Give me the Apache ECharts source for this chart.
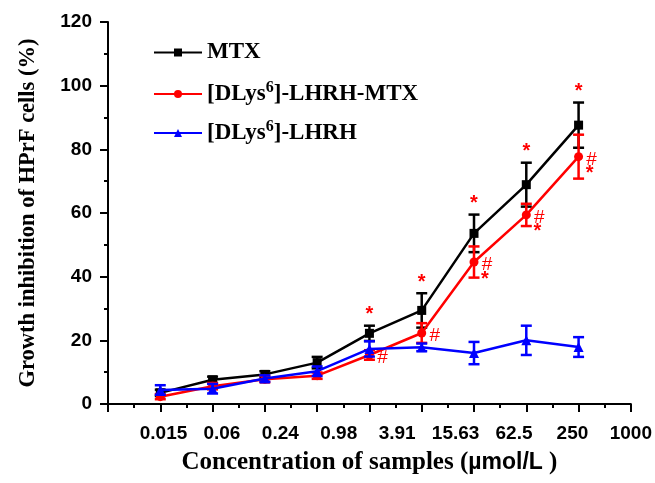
<!DOCTYPE html>
<html>
<head>
<meta charset="utf-8">
<script src="https://cdn.jsdelivr.net/npm/echarts@6/dist/echarts.min.js"></script>
<style>html,body{margin:0;padding:0;background:#fff}#c{width:655px;height:483px}</style>
</head>
<body>
<div id="c"></div>
<script>
// ---- data ----
const positions = [1, 2, 3, 4, 5, 6, 7, 8, 9];
const tickLabels = ['0.015', '0.06', '0.24', '0.98', '3.91', '15.63', '62.5', '250', '1000'];
const seriesNames = ['MTX', '[DLys6]-LHRH-MTX', '[DLys6]-LHRH'];
const mtx = [3.5, 7.6, 9.3, 13.0, 22.2, 29.4, 53.6, 68.9, 87.6];
const mtxErr = [1.0, 1.0, 1.0, 1.8, 2.4, 5.4, 5.9, 6.9, 7.1];
const conj = [2.3, 5.6, 7.8, 8.9, 15.4, 22.3, 44.6, 59.4, 77.7];
const conjErr = [0.8, 1.0, 1.0, 1.0, 1.5, 3.1, 4.9, 3.5, 6.9];
const lhrh = [4.4, 4.8, 8.0, 10.3, 17.3, 17.8, 16.0, 20.0, 17.9];
const lhrhErr = [1.5, 1.5, 1.0, 1.5, 2.4, 1.2, 3.5, 4.6, 3.1];
const starAboveMtx = [4, 5, 6, 7, 8];   // point indices marked "*" above MTX
const hashConj = [4, 5, 6, 7, 8];       // point indices marked "#" beside conjugate
const starConj = [6, 7, 8];             // point indices marked "*" beside conjugate

const SERIF = '"Liberation Serif","Times New Roman",serif';
const SANS = '"Liberation Sans",Arial,sans-serif';
const colors = ['#000000', '#ff0000', '#0000ff'];
const symbols = ['rect', 'circle', 'triangle'];

const chart = echarts.init(document.getElementById('c'), null, {renderer: 'canvas'});

function lineSeries(i, vals) {
  return {
    type: 'line', name: seriesNames[i],
    data: vals.map((v, k) => [positions[k], v]),
    symbol: symbols[i], symbolSize: i === 2 ? 10 : 9,
    itemStyle: {color: colors[i]},
    lineStyle: {color: colors[i], width: 2.5},
    z: 2 + i * 2
  };
}
function errSeries(i, vals, errs) {
  return {
    type: 'custom',
    data: vals.map((v, k) => [positions[k], v - errs[k], v + errs[k]]),
    encode: {x: 0, y: [1, 2]},
    silent: true, z: 3 + i * 2,
    renderItem: function (params, api) {
      const x = api.value(0);
      const top = api.coord([x, api.value(2)]);
      const bot = api.coord([x, api.value(1)]);
      const w = 5.5;
      const st = {stroke: colors[i], lineWidth: 2.5};
      return {type: 'group', children: [
        {type: 'line', shape: {x1: top[0], y1: top[1], x2: bot[0], y2: bot[1]}, style: st},
        {type: 'line', shape: {x1: top[0] - w, y1: top[1], x2: top[0] + w, y2: top[1]}, style: st},
        {type: 'line', shape: {x1: bot[0] - w, y1: bot[1], x2: bot[0] + w, y2: bot[1]}, style: st}
      ]};
    }
  };
}

const annData = [];
starAboveMtx.forEach(k => annData.push([positions[k], mtx[k] + mtxErr[k], 0]));
hashConj.forEach(k => annData.push([positions[k], conj[k], 1]));
starConj.forEach(k => annData.push([positions[k], conj[k], 2]));

const legendRich = {
  t: {fontFamily: SERIF, fontWeight: 'bold', fontSize: 23, color: '#000', lineHeight: 26},
  s: {fontFamily: SERIF, fontWeight: 'bold', fontSize: 16, color: '#000', verticalAlign: 'bottom', padding: [0, 0, 12, 0]}
};
function legendFmt(name) {
  if (name.indexOf('DLys6') >= 0) {
    const parts = name.split('6');
    return '{t|' + parts[0] + '}{s|6}{t|' + parts.slice(1).join('6') + '}';
  }
  return '{t|' + name + '}';
}
function legend(i, top) {
  return {
    data: [seriesNames[i]], left: 153, top: top, padding: 0,
    itemWidth: 48, itemHeight: 10, itemGap: 0, selectedMode: false,
    formatter: legendFmt,
    textStyle: {rich: legendRich, fontFamily: SERIF, fontWeight: 'bold', fontSize: 23, color: '#000'}
  };
}

const option = {
  animation: false,
  backgroundColor: '#fff',
  legend: [legend(0, 41), legend(1, 80), legend(2, 119)],
  grid: {left: 108, right: 23, top: 22, bottom: 79, containLabel: false},
  xAxis: [{
    type: 'value', min: 0, max: 10, interval: 1,
    axisLine: {show: true, lineStyle: {color: '#000', width: 2}},
    axisTick: {show: true, inside: false, length: 8, lineStyle: {color: '#000', width: 2}},
    minorTick: {show: true, splitNumber: 2, length: 4, lineStyle: {color: '#000', width: 2}},
    axisLabel: {show: false}, splitLine: {show: false},
    name: '{a|Concentration of samples (}{b|µmol/L}{a| )}',
    nameLocation: 'middle', nameGap: 46,
    nameTextStyle: {rich: {
      a: {fontFamily: SERIF, fontWeight: 'bold', fontSize: 25, color: '#000'},
      b: {fontFamily: SANS, fontWeight: 'bold', fontSize: 23, color: '#000'}
    }}
  }, {
    type: 'value', position: 'bottom', min: -0.95, max: 8, interval: 0.05,
    axisLine: {show: false}, axisTick: {show: false}, splitLine: {show: false},
    axisLabel: {
      show: true, margin: 20, fontFamily: SANS, fontWeight: 'bold', fontSize: 19, color: '#000',
      showMinLabel: true, showMaxLabel: true,
      formatter: function (v) {
        const r = Math.round(v);
        if (Math.abs(v - r) > 1e-6 || r < 0 || r >= tickLabels.length) return '';
        return tickLabels[r];
      }
    }
  }],
  yAxis: {
    type: 'value', min: 0, max: 120, interval: 20,
    axisLine: {show: true, lineStyle: {color: '#000', width: 2}},
    axisTick: {show: true, inside: false, length: 8, lineStyle: {color: '#000', width: 2}},
    minorTick: {show: true, splitNumber: 2, length: 4, lineStyle: {color: '#000', width: 2}},
    splitLine: {show: false},
    axisLabel: {margin: 16, fontFamily: SANS, fontWeight: 'bold', fontSize: 19, color: '#000'},
    name: 'Growth inhibition of HPrF cells (%)',
    nameLocation: 'middle', nameGap: 68, nameRotate: 90,
    nameTextStyle: {fontFamily: SERIF, fontWeight: 'bold', fontSize: 22.5, color: '#000'}
  },
  series: [
    lineSeries(0, mtx), errSeries(0, mtx, mtxErr),
    lineSeries(1, conj), errSeries(1, conj, conjErr),
    lineSeries(2, lhrh), errSeries(2, lhrh, lhrhErr),
    {
      type: 'custom', data: annData, encode: {x: 0, y: 1}, silent: true, z: 20,
      renderItem: function (params, api) {
        const kind = api.value(2);
        const p = api.coord([api.value(0), api.value(1)]);
        let txt = '*', dx = 0, dy = -11, font = 'bold 20px ' + SANS;
        if (kind === 1) { txt = '#'; dx = 13; dy = 3; font = '19px ' + SANS; }
        if (kind === 2) { txt = '*'; dx = 11; dy = 17; font = 'bold 20px ' + SANS; }
        return {type: 'text', x: p[0] + dx, y: p[1] + dy,
          style: {text: txt, fill: '#ff0000', font: font, align: 'center', verticalAlign: 'middle'}};
      }
    }
  ]
};
chart.setOption(option);
</script>
</body>
</html>
